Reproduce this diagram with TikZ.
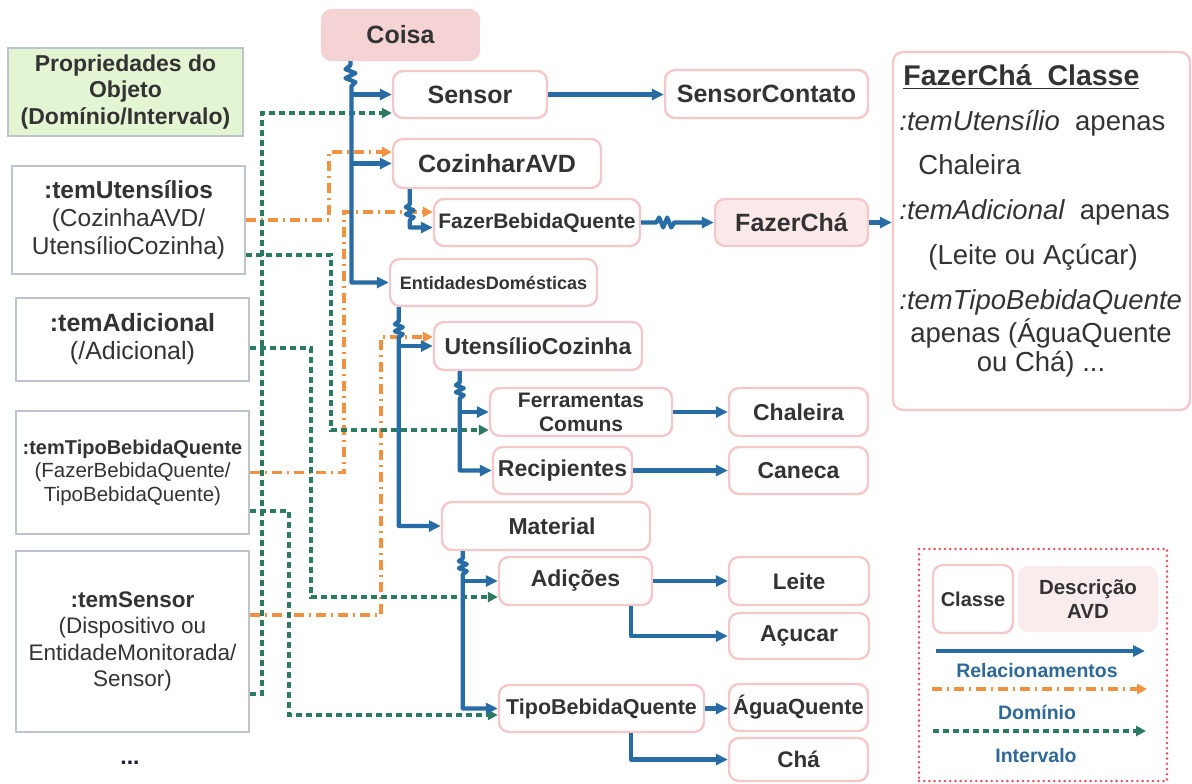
\documentclass[tikz,border=0pt]{standalone}
\usepackage{fontspec}
\setmainfont{Liberation Sans}
\usetikzlibrary{arrows.meta}

\definecolor{relblue}{RGB}{40,108,165}
\definecolor{domorange}{RGB}{240,146,66}
\definecolor{rangegreen}{RGB}{44,122,98}
\definecolor{clsborder}{RGB}{244,200,202}
\definecolor{rootfill}{RGB}{245,211,213}
\definecolor{avdfill}{RGB}{251,233,234}
\definecolor{legavd}{RGB}{249,236,236}
\definecolor{txt}{RGB}{51,51,51}
\definecolor{propborder}{RGB}{190,196,205}
\definecolor{propfill}{RGB}{228,245,212}
\definecolor{legframe}{RGB}{232,80,95}
\definecolor{legtext}{RGB}{46,104,150}
\definecolor{dotsnavy}{RGB}{30,30,60}

\newcommand\fsz[2]{\fontsize{#1}{#2}\selectfont}

\tikzset{
  cls/.style={draw=clsborder, line width=1.2pt, rounded corners=5pt, fill=white,
              text=txt, inner sep=0pt, align=center},
  sz/.style 2 args={minimum width=#1, minimum height=#2},
  propbox/.style={draw=propborder, line width=0.9pt, fill=white, text=txt,
                  inner sep=0pt, align=center},
  rel/.style={draw=relblue, line width=2.1pt, line join=round,
              -{Triangle[length=6pt,width=5.5pt]}},
  dom/.style={draw=domorange, line width=1.7pt,
              dash pattern=on 5pt off 2.5pt on 1pt off 2.5pt,
              -{Triangle[length=5pt,width=5pt]}},
  rng/.style={draw=rangegreen, line width=1.7pt, dash pattern=on 3pt off 2pt,
              -{Triangle[length=5pt,width=5pt]}},
  desctext/.style={anchor=west, inner sep=0pt, text=txt, font=\fsz{13.75}{16}},
  legtxt/.style={inner sep=0pt, text=legtext, font=\bfseries\fsz{9.75}{12}},
}

\begin{document}
\begin{tikzpicture}[x=0.5pt,y=-0.5pt]
\useasboundingbox (0,0) rectangle (1192,783);

% ---------- class hierarchy ----------
\node[cls, sz={78.5pt}{25pt}, fill=rootfill, draw=rootfill, font=\bfseries\fsz{12.5}{15}] (coisa) at (400.5,35) {Coisa};
\node[cls, sz={77pt}{23.5pt}, font=\bfseries\fsz{12.5}{15}] (sensor) at (470,94.5) {Sensor};
\node[cls, sz={101.5pt}{24pt}, font=\bfseries\fsz{12.5}{15}] (sensorc) at (766.5,94) {SensorContato};
\node[cls, sz={104pt}{24.5pt}, font=\bfseries\fsz{12.5}{15}] (cozinhar) at (497,163.5) {CozinharAVD};
\node[cls, sz={103pt}{23.5pt}, font=\bfseries\fsz{10.5}{13}] (fbq) at (537,222.5) {FazerBebidaQuente};
\node[cls, sz={76.5pt}{23.5pt}, fill=avdfill, font=\bfseries\fsz{12.5}{15}] (fazercha) at (791.5,222.5) {FazerChá};
\node[cls, sz={103.5pt}{23.5pt}, font=\bfseries\fsz{9}{11}] (entid) at (493.5,282.5) {EntidadesDomésticas};
\node[cls, sz={104pt}{24pt}, font=\bfseries\fsz{11.5}{14}] (utens) at (538,346) {UtensílioCozinha};
\node[cls, sz={91pt}{24pt}, font=\bfseries\fsz{10.5}{12}] (ferr) at (581,412) {Ferramentas\\Comuns};
\node[cls, sz={69.5pt}{24pt}, font=\bfseries\fsz{11.5}{14}] (chaleira) at (798.5,412) {Chaleira};
\node[cls, sz={69.5pt}{23.5pt}, font=\bfseries\fsz{11.5}{14}] (recip) at (562.5,470.5) {Recipientes};
\node[cls, sz={69.5pt}{23.5pt}, font=\bfseries\fsz{11.5}{14}] (caneca) at (798.5,470.5) {Caneca};
\node[cls, sz={104pt}{24pt}, font=\bfseries\fsz{11.5}{14}] (material) at (546,526) {\hspace*{6pt}Material};
\node[cls, sz={76.5pt}{24pt}, font=\bfseries\fsz{11.5}{14}] (adicoes) at (575.5,581) {Adições};
\node[cls, sz={70pt}{24pt}, font=\bfseries\fsz{11.25}{14}] (leite) at (799,581) {Leite};
\node[cls, sz={70pt}{23pt}, font=\bfseries\fsz{11.5}{14}] (acucar) at (799,636) {Açucar};
\node[cls, sz={102.5pt}{23.5pt}, font=\bfseries\fsz{10.75}{13}] (tbq) at (601.5,708.5) {TipoBebidaQuente};
\node[cls, sz={69.5pt}{23.5pt}, font=\bfseries\fsz{11}{13}] (agua) at (798.5,707.5) {ÁguaQuente};
\node[cls, sz={69.5pt}{21.5pt}, font=\bfseries\fsz{11.25}{13}] (cha) at (798.5,759.5) {Chá};

% ---------- FazerChá class description ----------
\node[cls, sz={148.5pt}{179pt}] (desc) at (1041.5,231) {};
\node[desctext, font=\bfseries\fsz{14.25}{17}] (dtitle) at (903,77) {\underline{FazerChá\ \ Classe}};
\node[desctext] (dl1) at (899,123) {{\itshape :temUtensílio}\ \ apenas};
\node[desctext] (dl2) at (918,165) {Chaleira};
\node[desctext] (dl3) at (899,212) {{\itshape :temAdicional}\ \ apenas};
\node[desctext] (dl4) at (928,257) {(Leite ou Açúcar)};
\node[desctext] (dl5) at (899,302) {{\itshape :temTipoBebidaQuente}};
\node[desctext, anchor=center] (dl6) at (1041,333) {apenas (ÁguaQuente};
\node[desctext, anchor=center] (dl7) at (1041,364) {ou Chá) ...};

% ---------- object properties ----------
\node[propbox, sz={117.5pt}{44pt}, fill=propfill, font=\bfseries\fsz{11.5}{13.25}] (props) at (125.5,92) {Propriedades do\\Objeto\\(Domínio/Intervalo)};
\node[propbox, sz={116.5pt}{54pt}, font=\fsz{12.25}{14}] (tu) at (128.5,220) {{\bfseries :temUtensílios}\\(CozinhaAVD/\\UtensílioCozinha)};
\node[propbox, sz={116.5pt}{41.5pt}, font=\fsz{12.5}{14}] (ta) at (132.5,339.5) {{\bfseries :temAdicional}\\(/Adicional)};
\node[propbox, sz={116.5pt}{61.5pt}, font=\fsz{10.25}{11.75}] (ttbq) at (132.5,472.5) {{\bfseries\fsz{10}{11.75}:temTipoBebidaQuente}\\(FazerBebidaQuente/\\TipoBebidaQuente)};
\node[propbox, sz={116.5pt}{90.5pt}, font=\fsz{11.25}{13.2}] (ts) at (132.5,641.5) {{\bfseries :temSensor}\\(Dispositivo ou\\EntidadeMonitorada/\\Sensor)};
\node[inner sep=0pt, text=dotsnavy, font=\bfseries\fsz{11.5}{13}] (more) at (130,763) {...};

% ---------- domain links ----------
\draw[dom] (tu.east) -- ++(83,0) |- ([yshift=5.75pt]cozinhar.west);
\draw[dom] (ttbq.east) -- ++(94,0) |- ([yshift=5.25pt]fbq.west);
\draw[dom] ([yshift=13.25pt]ts.east) -- ++(131,0) |- ([yshift=4.5pt]utens.west);

% ---------- range links ----------
\draw[rng] ([yshift=-26.25pt]ts.east) -- ++(12,0) |- ([yshift=-9.25pt]sensor.west);
\draw[rng] ([yshift=-17.5pt]tu.east) -- ++(85,0) |- ([yshift=-9pt]ferr.west);
\draw[rng] ([yshift=-4.25pt]ta.east) -- ++(61,0) |- ([yshift=-8pt]adicoes.west);
\draw[rng] ([yshift=-19.25pt]ttbq.east) -- ++(39,0) |- ([yshift=-3.25pt]tbq.west);

% ---------- subclass relations (zigzag marks the subclass trunk) ----------
\draw[rel] ([xshift=-25pt]coisa.south) -- ++(0,4) -- ++(-5,4) -- ++(10,4) -- ++(-10,5) -- ++(10,4) -- ++(-4,4) |- (entid.west);
\draw[rel] ([xshift=-20.25pt]sensor.west) -- (sensor.west);
\draw[rel] ([xshift=-20.25pt]cozinhar.west) -- (cozinhar.west);
\draw[rel] (sensor.east) -- (sensorc.west |- sensor.east);

\draw[rel] ([xshift=9pt]cozinhar.south west) -- ++(0,15) -- ++(-4,3) -- ++(8,3) -- ++(-8,4) -- ++(8,3) -- ++(-4,3) |- ([yshift=-2.5pt]fbq.west);
\draw[rel] (fbq.east) -- ++(15,0) -- ++(3,-5) -- ++(4,10) -- ++(4,-10) -- ++(4,10) -- ++(3,-5) -- (fazercha.west);
\draw[rel] (fazercha.east) -- (desc.west |- fazercha.east);

\draw[rel] ([xshift=5pt]entid.south west) -- ++(0,14) -- ++(-4,3) -- ++(8,3) -- ++(-8,4) -- ++(8,3) -- ++(-4,3) |- (material.west);
\draw[rel] ([xshift=-17pt]utens.west) -- (utens.west);

\draw[rel] ([xshift=13.5pt]utens.south west) -- ++(0,11) -- ++(-4,3) -- ++(8,3) -- ++(-8,4) -- ++(8,3) -- ++(-4,3) |- (recip.west);
\draw[rel] ([xshift=-14.5pt]ferr.west) -- (ferr.west);
\draw[rel] (ferr.east) -- (chaleira.west |- ferr.east);
\draw[rel] (recip.east) -- (caneca.west |- recip.east);

\draw[rel] ([xshift=11pt]material.south west) -- ++(0,7) -- ++(-4,3) -- ++(8,3) -- ++(-8,4) -- ++(8,3) -- ++(-4,3) |- (tbq.west);
\draw[rel] ([xshift=-17.5pt]adicoes.west) -- (adicoes.west);
\draw[rel] (adicoes.east) -- (leite.west |- adicoes.east);
\draw[rel] ([xshift=27.75pt]adicoes.south) |- (acucar.west);
\draw[rel] (tbq.east) -- (agua.west |- tbq.east);
\draw[rel] ([xshift=14.75pt]tbq.south) |- (cha.west);

% ---------- legend ----------
\node[draw=legframe, line width=1.4pt, line cap=round, dash pattern=on 0pt off 2.6pt, sz={124pt}{116pt}, inner sep=0pt] (legend) at (1043,665) {};
\node[cls, sz={40pt}{34pt}, font=\bfseries\fsz{10}{12}] (lgcls) at (973,599) {Classe};
\node[cls, draw=none, fill=legavd, sz={70pt}{33pt}, font=\bfseries\fsz{10.25}{12}] (lgavd) at (1088,599) {Descrição\\AVD};
\coordinate (lgrA) at (936,651);
\coordinate (lgrB) at (1145,651);
\draw[rel] (lgrA) -- (lgrB);
\node[legtxt] (lgrel) at (1037,671) {Relacionamentos};
\coordinate (lgdA) at (932,689);
\coordinate (lgdB) at (1147,689);
\draw[dom] (lgdA) -- (lgdB);
\node[legtxt] (lgdom) at (1037,712) {Domínio};
\coordinate (lgiA) at (933,731);
\coordinate (lgiB) at (1146,731);
\draw[rng] (lgiA) -- (lgiB);
\node[legtxt] (lgint) at (1036,756) {Intervalo};
\end{tikzpicture}
\end{document}
